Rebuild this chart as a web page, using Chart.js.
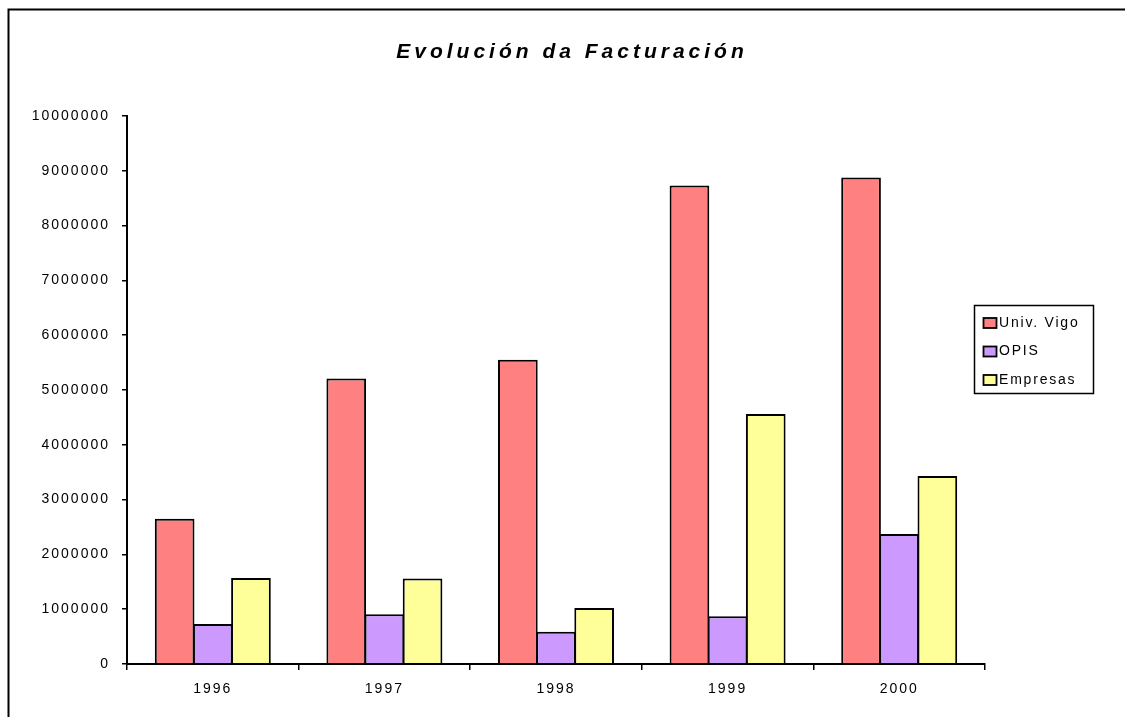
<!DOCTYPE html>
<html>
<head>
<meta charset="utf-8">
<script src="https://cdn.jsdelivr.net/npm/chart.js@4/dist/chart.umd.min.js"></script>
<style>
  html, body { margin: 0; padding: 0; background: #fff; }
  #wrap { position: relative; width: 1125px; height: 717px; }
</style>
</head>
<body>
<div id="wrap"><canvas id="c" width="1125" height="717"></canvas></div>
<script>
const categories = ['1996', '1997', '1998', '1999', '2000'];
const univVigo = [2650000, 5210000, 5550000, 8730000, 8880000];
const opis = [730000, 910000, 590000, 870000, 2370000];
const empresas = [1570000, 1560000, 1020000, 4560000, 3430000];
const seriesNames = ['Univ. Vigo', 'OPIS', 'Empresas'];
const titleText = 'Evolución da Facturación';

const FONT = "'Liberation Sans', Arial, sans-serif";
Chart.defaults.font.family = FONT;
Chart.defaults.font.size = 14;
Chart.defaults.color = '#000';

const spacingPlugin = {
  id: 'spacing',
  beforeLayout(chart) { chart.ctx.letterSpacing = '2px'; },
  beforeDraw(chart) { chart.ctx.letterSpacing = '2px'; }
};

const decorPlugin = {
  id: 'decor',
  afterDraw(chart) {
    const ctx = chart.ctx;
    ctx.save();
    // outer frame
    ctx.strokeStyle = '#000';
    ctx.lineWidth = 2;
    ctx.beginPath();
    ctx.moveTo(8.5, 717);
    ctx.lineTo(8.5, 9.5);
    ctx.lineTo(1125, 9.5);
    ctx.stroke();
    // title
    ctx.letterSpacing = '4px';
    ctx.font = "italic bold 21px " + FONT;
    ctx.fillStyle = '#000';
    ctx.textAlign = 'center';
    ctx.textBaseline = 'middle';
    ctx.fillText(titleText, 572, 52);
    // legend
    ctx.lineWidth = 1.5;
    ctx.strokeRect(974.5, 305.5, 119, 88);
    ctx.font = "14px " + FONT;
    ctx.letterSpacing = '1.8px';
    ctx.textAlign = 'left';
    chart.data.datasets.forEach((ds, i) => {
      const cy = 323 + i * 28.5;
      ctx.fillStyle = ds.backgroundColor;
      ctx.fillRect(983.5, cy - 5, 13, 10);
      ctx.lineWidth = 1.8;
      ctx.strokeStyle = '#000';
      ctx.strokeRect(983.5, cy - 5, 13, 10);
      ctx.fillStyle = '#000';
      ctx.fillText(ds.label, 999, cy);
    });
    ctx.restore();
  }
};

const mk = (label, data, color) => ({
  label, data,
  backgroundColor: color,
  borderColor: '#000',
  borderWidth: 2,
  borderSkipped: 'bottom',
  categoryPercentage: 0.667,
  barPercentage: 1.04
});

new Chart(document.getElementById('c'), {
  type: 'bar',
  data: {
    labels: categories,
    datasets: [
      mk(seriesNames[0], univVigo, '#FF8080'),
      mk(seriesNames[1], opis, '#CC99FF'),
      mk(seriesNames[2], empresas, '#FFFF99')
    ]
  },
  options: {
    responsive: false,
    animation: false,
    layout: { padding: { left: 0, top: 116, right: 140, bottom: 0 } },
    plugins: {
      legend: { display: false },
      title: { display: false },
      tooltip: { enabled: false }
    },
    scales: {
      x: {
        offset: true,
        grid: { display: true, drawOnChartArea: false, drawTicks: true, tickLength: 6, color: '#000', lineWidth: 1.5, offset: true },
        border: { display: true, color: '#000', width: 2, z: 1 },
        ticks: { padding: 11, color: '#000', maxRotation: 0 },
        afterFit(s) { s.height = 53; }
      },
      y: {
        min: 0, max: 10000000,
        grid: { display: true, drawOnChartArea: false, drawTicks: true, tickLength: 5, color: '#000', lineWidth: 1.5 },
        border: { display: true, color: '#000', width: 2 },
        ticks: { stepSize: 1000000, padding: 12, color: '#000', callback: v => String(v) },
        afterFit(s) { s.width = 127; }
      }
    }
  },
  plugins: [spacingPlugin, decorPlugin]
});
</script>
</body>
</html>
